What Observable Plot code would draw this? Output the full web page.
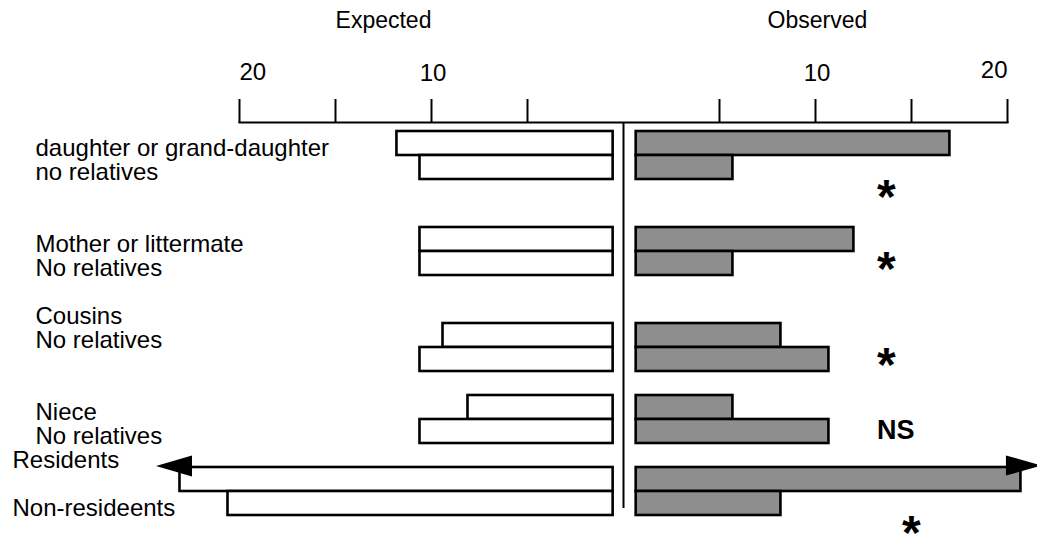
<!DOCTYPE html>
<html><head><meta charset="utf-8">
<script src="https://cdn.jsdelivr.net/npm/d3@7"></script>
<script src="https://cdn.jsdelivr.net/npm/@observablehq/plot@0.6"></script>
<style>
html,body{margin:0;padding:0;background:#fff;}
#chart svg{display:block;}
</style></head><body><div id="chart"></div>
<script>
// ---- data ----
const groupLabels = ["daughter or grand-daughter", "Mother or littermate", "Cousins", "Niece", "Residents"];
const comparisonLabels = ["no relatives", "No relatives", "No relatives", "No relatives", "Non-resideents"];
const expectedRelated = [11.8, 10.6, 9.4, 8.1, 23.1];
const expectedComparison = [10.6, 10.6, 10.6, 10.6, 20.6];
const observedRelated = [17.0, 12.0, 8.2, 5.7, 20.7];
const observedComparison = [5.7, 5.7, 10.7, 10.7, 8.2];
const significance = ["*", "*", "*", "NS", "*"];
const offScale = [false, false, false, false, true];
const panelTitles = ["Expected", "Observed"];
const tickValues = [-20, -15, -10, -5, 5, 10, 15, 20];
const tickLabelValues = [-20, -10, 10, 20];

// ---- layout helpers (code, not data) ----
const gapAfter = [2, 2, 1, 1, 0];
const groupStart = [];
let r = 0;
groupLabels.forEach((g, i) => { groupStart.push(r); r += 2 + gapAfter[i]; });
const rows = d3.range(r + 1);
const gapL = 0.54, gapR = 0.66;

const bars = [];
groupLabels.forEach((g, i) => {
  const s = groupStart[i];
  bars.push({row: s, side: "Expected", v: expectedRelated[i]});
  bars.push({row: s + 1, side: "Expected", v: expectedComparison[i]});
  bars.push({row: s, side: "Observed", v: observedRelated[i]});
  bars.push({row: s + 1, side: "Observed", v: observedComparison[i]});
});

const relShift = [0, 0, -1, 0, -1];
const cmpShift = [0, 0, -1, 0, 0];
const labels = [];
groupLabels.forEach((g, i) => {
  const s = groupStart[i];
  const outer = i === groupLabels.length - 1;
  labels.push({row: s + relShift[i], text: g, outer});
  labels.push({row: s + 1 + cmpShift[i], text: comparisonLabels[i], outer});
});

const sigShift = [1, 0, 0, 0, 1];
const sigs = significance.map((t, i) => ({
  text: t, row: groupStart[i] + 1 + sigShift[i], x: i === 4 ? 14.5 : 13.2
}));

const arrows = [];
offScale.forEach((o, i) => {
  if (!o) return;
  arrows.push({row: groupStart[i], x: -expectedRelated[i], dir: "left"});
  arrows.push({row: groupStart[i], x: observedRelated[i], dir: "right"});
});
const arrowRight = {draw(ctx) { ctx.moveTo(-15, -10); ctx.lineTo(21, 0); ctx.lineTo(-15, 10); ctx.closePath(); }};
const arrowLeft = {draw(ctx) { ctx.moveTo(12, -10.5); ctx.lineTo(-24, 0); ctx.lineTo(12, 10.5); ctx.closePath(); }};

const titles = panelTitles.map((t, i) => ({text: t, x: i === 0 ? -12.5 : 10.1}));
const tl = tickLabelValues.map(v => ({v, text: String(Math.abs(v))}));

const font = "'Liberation Sans', Arial, Helvetica, sans-serif";

const chart = Plot.plot({
  width: 1037,
  height: 540,
  marginTop: 122,
  marginBottom: 32,
  marginLeft: 239,
  marginRight: 30,
  style: {fontFamily: font, background: "#fff", color: "#000"},
  x: {domain: [-20, 20]},
  y: {type: "band", domain: rows, range: [131, 131 + rows.length * 24], padding: 0, axis: null},
  marks: [
    Plot.barX(bars, {
      y: "row",
      x1: d => d.side === "Expected" ? -d.v : gapR,
      x2: d => d.side === "Expected" ? -gapL : d.v,
      fill: d => d.side === "Expected" ? "#ffffff" : "#8e8e8e",
      stroke: "#000",
      strokeWidth: 2.6
    }),
    Plot.dot(arrows.filter(d => d.dir === "right"), {x: "x", y: "row", symbol: arrowRight, fill: "#000", stroke: "none", dy: -14}),
    Plot.dot(arrows.filter(d => d.dir === "left"), {x: "x", y: "row", symbol: arrowLeft, fill: "#000", stroke: "none", dy: -13.5}),
    Plot.ruleX([0], {stroke: "#000", strokeWidth: 2}),
    Plot.frame({anchor: "top", stroke: "#000", strokeWidth: 2}),
    Plot.axisX({anchor: "top", ticks: tickValues, tickSize: 24, tickFormat: () => "", strokeWidth: 2, stroke: "#000", label: null}),
    Plot.text(tl.filter(d => d.v === -20), {x: "v", text: "text", frameAnchor: "top", lineAnchor: "bottom", textAnchor: "start", dy: 79 - 122, fontSize: 24, fill: "#000"}),
    Plot.text(tl.filter(d => Math.abs(d.v) === 10), {x: "v", text: "text", frameAnchor: "top", lineAnchor: "bottom", textAnchor: "middle", dy: 80 - 122, dx: 1.5, fontSize: 24, fill: "#000"}),
    Plot.text(tl.filter(d => d.v === 20), {x: "v", text: "text", frameAnchor: "top", lineAnchor: "bottom", textAnchor: "end", dy: 77 - 122, fontSize: 24, fill: "#000"}),
    Plot.text(titles, {x: "x", text: "text", frameAnchor: "top", lineAnchor: "bottom", textAnchor: "middle", dy: 27 - 122, fontSize: 23, fill: "#000"}),
    Plot.text(labels.filter(d => !d.outer), {y: "row", text: "text", frameAnchor: "left", textAnchor: "start", lineAnchor: "bottom", dx: 35 - 239, dy: 12, fontSize: 24, fill: "#000"}),
    Plot.text(labels.filter(d => d.outer), {y: "row", text: "text", frameAnchor: "left", textAnchor: "start", lineAnchor: "bottom", dx: 12 - 239, dy: 12, fontSize: 24, fill: "#000"}),
    Plot.text(sigs.filter(d => d.text === "*"), {x: "x", y: "row", text: "text", textAnchor: "start", lineAnchor: "bottom", dy: 21, fontSize: 48, fontWeight: "bold", fill: "#000"}),
    Plot.text(sigs.filter(d => d.text !== "*"), {x: "x", y: "row", text: "text", textAnchor: "start", lineAnchor: "bottom", dy: 7, fontSize: 27, fontWeight: "bold", fill: "#000"})
  ]
});
document.getElementById("chart").appendChild(chart);
</script>
</body></html>
